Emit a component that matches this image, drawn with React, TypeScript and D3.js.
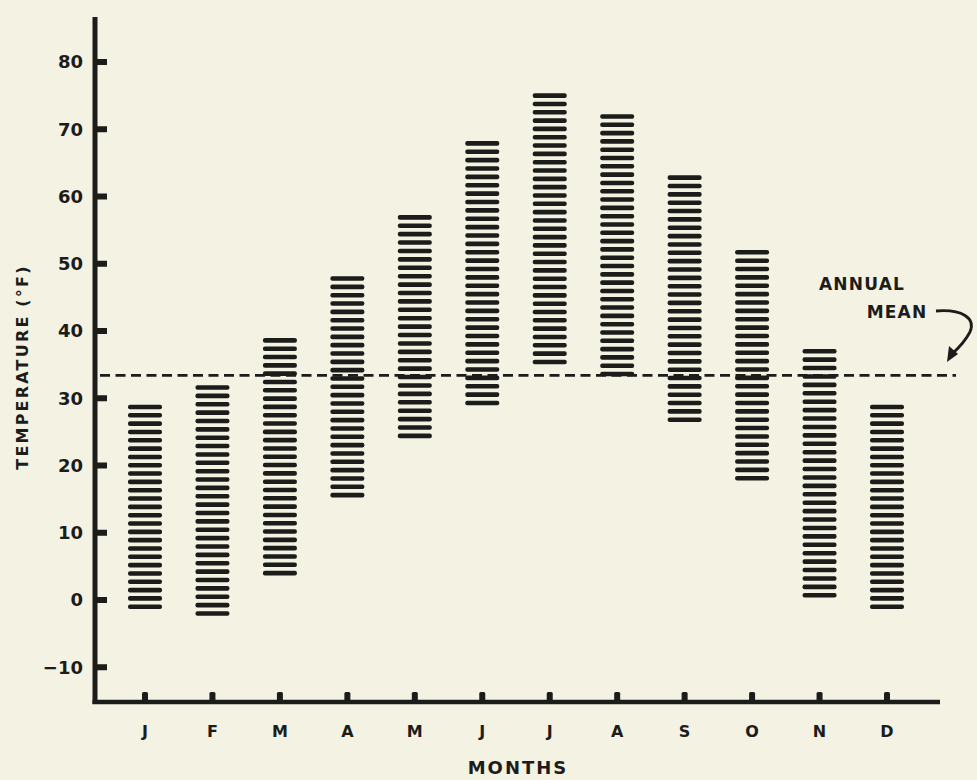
import React, { useEffect } from "react";
import * as d3 from "d3";

const months = ["J", "F", "M", "A", "M", "J", "J", "A", "S", "O", "N", "D"];
const highs = [28.7, 31.6, 38.6, 47.8, 56.9, 67.9, 75.0, 71.9, 62.8, 51.7, 37.0, 28.7];
const lows = [-1.0, -2.0, 4.0, 15.6, 24.4, 29.3, 35.4, 33.6, 26.8, 18.1, 0.7, -1.0];
const yTicks = [-10, 0, 10, 20, 30, 40, 50, 60, 70, 80];
const annualMean = 33.4;

const W = 977;
const H = 780;
const INK = "#1c1c1a";
const BG = "#f3f2e3";
const FONT = "'DejaVu Sans', 'Open Sans', sans-serif";

export default function App() {
  useEffect(() => {
    document.body.style.margin = "0";
    document.body.style.background = BG;
  }, []);

  const y = d3.scaleLinear().domain([0, 80]).range([600, 62]);
  const x = d3
    .scalePoint<number>()
    .domain(d3.range(months.length))
    .range([145, 887]);

  const axisX = 95;
  const axisY = 702;
  const stripeStep = 8.3;
  const barW = 34;

  const bars = months.map((m, i) => {
    const yTop = y(highs[i]);
    const yBot = y(lows[i]);
    const n = Math.max(1, Math.round((yBot - yTop) / stripeStep));
    const step = (yBot - yTop) / n;
    const stripes = d3.range(n + 1).map((k) => yTop + k * step);
    return { i, cx: x(i)!, stripes };
  });

  const meanY = y(annualMean);
  const arrowPath = d3.path();
  arrowPath.moveTo(936, 311);
  arrowPath.bezierCurveTo(962, 309, 976, 318, 970, 332);
  arrowPath.quadraticCurveTo(964, 343, 953, 353);

  return (
    <svg width={W} height={H} style={{ display: "block", background: BG }}>
      <rect width={W} height={H} fill={BG} />

      {/* bars as stripes */}
      {bars.map((b) => (
        <g key={b.i}>
          {b.stripes.map((sy, k) => (
            <rect
              key={k}
              x={b.cx - barW / 2}
              y={sy - 2.3}
              width={barW}
              height={4.6}
              rx={2}
              fill={INK}
            />
          ))}
        </g>
      ))}

      {/* annual mean dashed line */}
      <line
        x1={100}
        x2={956}
        y1={meanY}
        y2={meanY}
        stroke={INK}
        strokeWidth={2.8}
        strokeDasharray="10,5.5"
      />

      {/* axes */}
      <line x1={axisX} x2={axisX} y1={17} y2={axisY + 2} stroke={INK} strokeWidth={5} />
      <line x1={axisX - 2.5} x2={940} y1={axisY} y2={axisY} stroke={INK} strokeWidth={4.5} />

      {/* y ticks */}
      {yTicks.map((t) => (
        <g key={t}>
          <rect x={axisX} y={y(t) - 3} width={12} height={6} fill={INK} />
          <text
            x={83}
            y={y(t)}
            dy="0.36em"
            textAnchor="end"
            fontFamily={FONT}
            fontWeight="bold"
            fontSize={18}
            fill={INK}
          >
            {t < 0 ? "\u2212" + Math.abs(t) : t}
          </text>
        </g>
      ))}

      {/* x ticks and labels */}
      {months.map((m, i) => (
        <g key={i}>
          <rect x={x(i)! - 3} y={axisY - 10} width={6} height={10} rx={1.5} fill={INK} />
          <text
            x={x(i)!}
            y={737}
            textAnchor="middle"
            fontFamily={FONT}
            fontWeight="bold"
            fontSize={16}
            fill={INK}
          >
            {m}
          </text>
        </g>
      ))}

      {/* axis titles */}
      <text
        x={518}
        y={774}
        textAnchor="middle"
        fontFamily={FONT}
        fontWeight="bold"
        fontSize={18}
        letterSpacing={2}
        fill={INK}
      >
        MONTHS
      </text>
      <text
        transform={`translate(28, 367) rotate(-90)`}
        textAnchor="middle"
        fontFamily={FONT}
        fontWeight="bold"
        fontSize={16}
        letterSpacing={2.2}
        fill={INK}
      >
        TEMPERATURE (°F)
      </text>

      {/* annotation */}
      <text x={862} y={290} textAnchor="middle" fontFamily={FONT} fontWeight="bold" fontSize={17} letterSpacing={1.2} fill={INK}>
        ANNUAL
      </text>
      <text x={897} y={318} textAnchor="middle" fontFamily={FONT} fontWeight="bold" fontSize={17} letterSpacing={1.2} fill={INK}>
        MEAN
      </text>
      <path d={arrowPath.toString()} fill="none" stroke={INK} strokeWidth={2.8} />
      <path d="M 947 362 L 949 346 L 958 354 Z" fill={INK} />
    </svg>
  );
}
